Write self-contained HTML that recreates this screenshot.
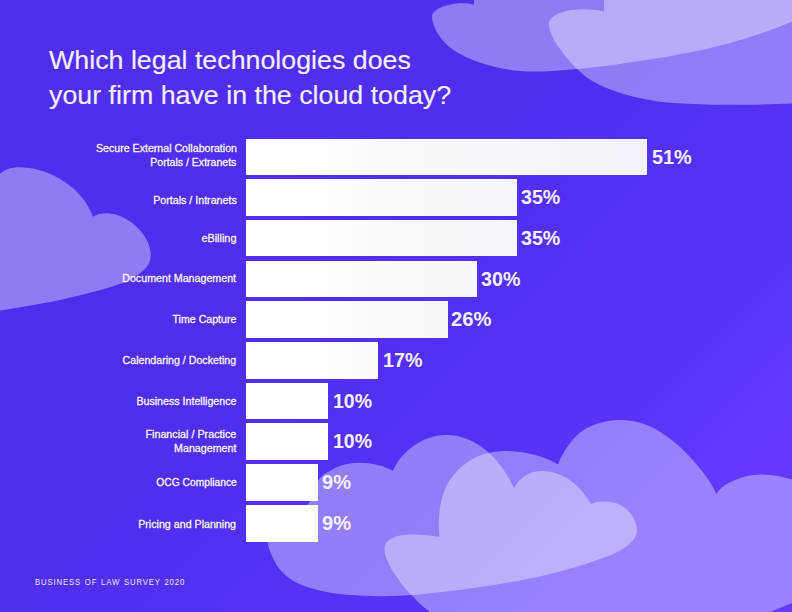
<!DOCTYPE html>
<html>
<head>
<meta charset="utf-8">
<title>Which legal technologies does your firm have in the cloud today?</title>
<style>
html,body{margin:0;padding:0;}
body{width:792px;height:612px;overflow:hidden;position:relative;font-family:"Liberation Sans",sans-serif;
background:#512dee;}
#bg{position:absolute;left:0;top:0;width:792px;height:612px;
background:linear-gradient(135deg,#512dee 0%,#512dee 45%,#5430f3 58%,#5934f8 75%,#6339ff 86%,#643aff 100%);}
#clouds{position:absolute;left:0;top:0;}
.t{position:absolute;white-space:nowrap;transform-origin:0 0;color:#f1edff;}
.title{font-size:26.5px;line-height:36px;left:48.7px;transform:scaleX(1.011);color:#f3efff;-webkit-text-stroke:0.15px #f3efff;}
.lab{position:absolute;white-space:nowrap;transform-origin:100% 0;color:#f9f7ff;font-size:10.7px;line-height:14px;right:555.5px;text-align:right;-webkit-text-stroke:0.28px #f9f7ff;transform:scaleX(0.987);}
.bar{position:absolute;left:245.8px;height:36.6px;background:linear-gradient(to right,#ffffff 0px,#fefeff 70px,#fbfcfe 110px,#f7f9fc 150px,#f6f7fc 270px,#f3f5fa 300px,#f2f3fa 402px);background-size:402px 100%;background-repeat:no-repeat;background-color:#f2f3fa;}
.pct{position:absolute;white-space:nowrap;transform-origin:0 0;color:#f4f1ff;font-weight:bold;font-size:20.5px;line-height:20px;}
.foot{position:absolute;white-space:nowrap;transform-origin:0 0;color:#ece6ff;font-size:9.1px;line-height:10px;letter-spacing:1px;word-spacing:0.85px;left:35.4px;top:577.3px;transform:scaleX(0.854);}
</style>
</head>
<body>
<div id="bg"></div>
<svg id="clouds" width="792" height="612" viewBox="0 0 792 612">
<g fill="#ffffff" fill-opacity="0.37">
<!-- left cloud -->
<path id="cL" d="M0,173.6 C6,169 12,167 19.4,167.2 C33,167.5 45,171 55.5,176.4 C66,182 74,188 80.5,195.8 C86,202 90,209 93,216.7 C97,214 102,213 108,213.3 C117,214 126,218 133,223.6 C142,231 149,241 150.5,251.4 C151.5,259 149,265 144.4,269.4 C138,275.5 130,280 122,283.3 C109,288 96,291.5 83,294.4 C69,298 55,301 41.7,303.6 C27,306.5 13,308.5 0,310.5 Z"/>
<!-- top-right cloud A -->
<path id="cA" d="M474,0 L474,4.5 C466,2.5 456,3 448,5 C438,7.5 431.5,12 432,18 C433,27 438,35 445,43 C452,50 461,55 470.5,59 C482,64 495,67.5 508,69.4 C516,70.7 525,71.5 533.6,71.5 C546,71.5 559,70.5 571.5,69.4 C596,68 620,64 642.5,60.6 C660,58 677,55 693,51.8 C710,48.5 727,44 743.5,39 C760,34 777,28 792,21.5 L792,0 Z"/>
<!-- top-right cloud B -->
<path id="cB" d="M604,0 L604,11.4 C594,9 582,8.5 571.5,10 C558,12 548,18 548.8,25 C550,34 555,43 561.4,50.5 C567,59 574,66.5 581.6,73 C585,76 588,78.5 592,80.8 C600,85.5 608,89 617,92 C629,96 642,99 655,101 C668,102.8 680,103.6 693,104 C710,104.8 727,105 743.5,104.8 C760,104.6 776,104 792,103.5 L792,0 Z"/>
<!-- bottom cloud C -->
<path id="cC" d="M355,463 C368,462 383,465 393,471 C401,452 422,435 446,435 C476,435 500,458 514,488 C520,477 530,471 542,471 C563,471 581,486 591,504 C597,501.5 604,501 611,502 C624,504 635,514 637,529 C638,539 627,548 611,555 C580,567 546,576 512,582 C479,588 446,592 413,595 C399,596 385,596.5 371,596 C354,595.5 337,594.5 322,591 C309,588 297,584 289,578 C281,572 276,565 273,558 C270,552 268,547 268,542 C268,530 295,517 309,503 C314,496 315,488 318,481 C321,476 325,473 330,471 C338,466 346,463.5 355,463 Z"/>
<!-- bottom cloud D -->
<path id="cD" d="M439.4,537 C438,520 439,505 444,492 C452,470 474,452 502,451 C524,450.5 544,456 558,464.5 C564,449 574,436 586,428.5 C597,422.5 609,420 622,420 C638,420.5 652,426 664,434.6 C674,441 684,450 691.6,459 C702,470 711,482 716.5,494 C720,488 726,484 733,481 C741,477 751,474.5 760.8,474.4 C772,474.5 783,476.5 792,479.6 L792,603 C785,606 777,609 770,612 L430,612 C423,607 418,602 414,597.6 C407,591 402,585 397.6,578 C391,569 384,557 384.5,548 C385,540 394,536 404,535 C415,534 428,535 439.4,537 Z"/>
</g>
</svg>

<div class="t title" id="t1" style="top:42px;">Which legal technologies does</div>
<div class="t title" id="t2" style="top:77.2px;">your firm have in the cloud today?</div>

<div class="bar" style="top:138.5px;width:401.1px;"></div>
<div class="bar" style="top:179.2px;width:271.6px;"></div>
<div class="bar" style="top:219.9px;width:271.6px;"></div>
<div class="bar" style="top:260.6px;width:231.5px;"></div>
<div class="bar" style="top:301.3px;width:202.1px;"></div>
<div class="bar" style="top:342.0px;width:132.4px;"></div>
<div class="bar" style="top:382.7px;width:82.1px;"></div>
<div class="bar" style="top:423.4px;width:82.1px;"></div>
<div class="bar" style="top:464.2px;width:72.1px;"></div>
<div class="bar" style="top:505.0px;width:72.1px;"></div>

<div class="lab" id="l1a" style="top:141.1px;transform:scaleX(0.993);">Secure External Collaboration</div>
<div class="lab" id="l1b" style="top:155.0px;transform:scaleX(0.985);">Portals / Extranets</div>
<div class="lab" id="l2" style="top:193.0px;transform:scaleX(0.998);">Portals / Intranets</div>
<div class="lab" id="l3" style="top:230.8px;transform:scaleX(1.018);">eBilling</div>
<div class="lab" id="l4" style="top:271.2px;transform:scaleX(0.998);">Document Management</div>
<div class="lab" id="l5" style="top:312.0px;transform:scaleX(0.992);">Time Capture</div>
<div class="lab" id="l6" style="top:353.0px;transform:scaleX(0.995);">Calendaring / Docketing</div>
<div class="lab" id="l7" style="top:394.0px;transform:scaleX(0.996);">Business Intelligence</div>
<div class="lab" id="l8a" style="top:427.4px;transform:scaleX(1.006);">Financial / Practice</div>
<div class="lab" id="l8b" style="top:441.3px;transform:scaleX(0.999);">Management</div>
<div class="lab" id="l9" style="top:475.4px;transform:scaleX(0.961);">OCG Compliance</div>
<div class="lab" id="l10" style="top:516.5px;transform:scaleX(0.998);">Pricing and Planning</div>

<div class="pct" id="p1" style="left:651.6px;top:146.5px;transform:scaleX(0.970);">51%</div>
<div class="pct" id="p2" style="left:521.4px;top:187.2px;transform:scaleX(0.958);">35%</div>
<div class="pct" id="p3" style="left:521.4px;top:227.9px;transform:scaleX(0.958);">35%</div>
<div class="pct" id="p4" style="left:481.0px;top:268.6px;transform:scaleX(0.960);">30%</div>
<div class="pct" id="p5" style="left:451.0px;top:309.3px;transform:scaleX(0.985);">26%</div>
<div class="pct" id="p6" style="left:382.9px;top:350.0px;transform:scaleX(0.960);">17%</div>
<div class="pct" id="p7" style="left:332.9px;top:390.7px;transform:scaleX(0.950);">10%</div>
<div class="pct" id="p8" style="left:332.9px;top:431.4px;transform:scaleX(0.950);">10%</div>
<div class="pct" id="p9" style="left:322.2px;top:472.2px;transform:scaleX(0.980);">9%</div>
<div class="pct" id="p10" style="left:322.2px;top:513.0px;transform:scaleX(0.980);">9%</div>

<div class="foot" id="ft">BUSINESS OF LAW SURVEY 2020</div>
</body>
</html>
